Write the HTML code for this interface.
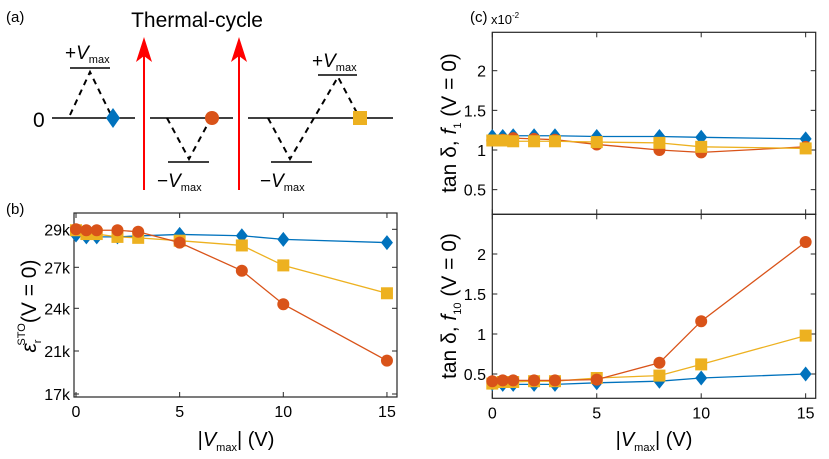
<!DOCTYPE html>
<html><head><meta charset="utf-8"><style>
body{margin:0;background:#fff;}
svg{font-family:"Liberation Sans",sans-serif;display:block}
</style></head><body>
<svg width="829" height="459" viewBox="0 0 829 459" xmlns="http://www.w3.org/2000/svg">
<g id="panelA">
<text x="6" y="22" font-size="15">(a)</text>
<text x="197" y="27" font-size="21" text-anchor="middle">Thermal-cycle</text>
<text x="33" y="127" font-size="21">0</text>
<g stroke="#000" stroke-width="1.5" fill="none">
<line x1="52" y1="118" x2="135" y2="118"/><line x1="150" y1="118" x2="233" y2="118"/><line x1="248" y1="118" x2="393" y2="118"/>
<line x1="70" y1="68" x2="110" y2="68"/><line x1="168" y1="162" x2="209" y2="162"/><line x1="271" y1="162" x2="312" y2="162"/><line x1="318" y1="75" x2="357" y2="75"/>
<g stroke-dasharray="6,5" stroke-width="2">
<polyline points="70,115 90,72 111,115"/><polyline points="167,118 189,159 211,118"/><polyline points="268,118 290,159 338,77 357,113"/>
</g></g>
<text x="65" y="59" font-size="19">+<tspan font-style="italic">V</tspan><tspan font-size="11" dy="4">max</tspan></text>
<text x="157" y="187" font-size="19">−<tspan font-style="italic">V</tspan><tspan font-size="11" dy="4">max</tspan></text>
<text x="260" y="187" font-size="19">−<tspan font-style="italic">V</tspan><tspan font-size="11" dy="4">max</tspan></text>
<text x="312" y="67" font-size="19">+<tspan font-style="italic">V</tspan><tspan font-size="11" dy="4">max</tspan></text>
<g>
<line x1="144" y1="190" x2="144" y2="50" stroke="#f00" stroke-width="2"/>
<path d="M144,37 L152,62 L144,56 L136,62 Z" fill="#f00"/></g>
<g>
<line x1="239" y1="190" x2="239" y2="50" stroke="#f00" stroke-width="2"/>
<path d="M239,37 L247,62 L239,56 L231,62 Z" fill="#f00"/></g>
<path d="M113,108 L120,118 L113,128 L106,118 Z" fill="#0072BD"/>
<circle cx="212" cy="118" r="7" fill="#D95319"/>
<rect x="353" y="111" width="14" height="14" fill="#EDB120"/>
</g>
<text x="6" y="214" font-size="15">(b)</text>
<text x="470" y="22" font-size="15">(c)</text>
<g id="charts"></g>
</svg>
<script>
const xs = [0, 0.5, 1, 2, 3, 5, 8, 10, 15];
const xTicks = [0, 5, 10, 15];
const bBlue = [28.7, 28.6, 28.6, 28.6, 28.65, 28.73, 28.66, 28.47, 28.3];
const bOrange = [29.0, 28.95, 28.95, 28.95, 28.87, 28.3, 26.75, 24.3, 20.1];
const bYellow = [28.95, 28.75, 28.75, 28.6, 28.55, 28.4, 28.15, 27.1, 25.1];
const bTicks = [29, 27, 24, 21, 17];
const bTickLabels = ["29k", "27k", "24k", "21k", "17k"];
const c1Blue = [1.17, 1.17, 1.18, 1.18, 1.18, 1.17, 1.17, 1.16, 1.14];
const c1Orange = [1.12, 1.13, 1.15, 1.14, 1.13, 1.07, 1.0, 0.97, 1.04];
const c1Yellow = [1.12, 1.12, 1.11, 1.11, 1.11, 1.1, 1.09, 1.04, 1.02];
const c10Blue = [0.38, 0.37, 0.37, 0.37, 0.37, 0.39, 0.41, 0.45, 0.5];
const c10Orange = [0.41, 0.42, 0.42, 0.42, 0.42, 0.43, 0.64, 1.16, 2.15];
const c10Yellow = [0.38, 0.4, 0.4, 0.41, 0.41, 0.45, 0.48, 0.62, 0.98];
const cTicks = [0.5, 1, 1.5, 2];
const cTickLabels = ["0.5", "1", "1.5", "2"];

const NS = "http://www.w3.org/2000/svg";
const root = document.getElementById("charts");
function mk(tag, attrs, parent) { const e = document.createElementNS(NS, tag); for (const k in attrs) e.setAttribute(k, attrs[k]); (parent || root).appendChild(e); return e; }
const COLORS = { blue: "#0072BD", orange: "#D95319", yellow: "#EDB120" };

const bTickPx = [229.3, 267.3, 308.3, 351, 394];
function yB(v) {
  for (let i = 0; i < bTicks.length - 1; i++) {
    const a = bTicks[i], b = bTicks[i + 1];
    if (v <= a && v >= b || i === bTicks.length - 2 || (i === 0 && v > a)) {
      return bTickPx[i] + (a - v) / (a - b) * (bTickPx[i + 1] - bTickPx[i]);
    }
  }
}
const xB = v => 76 + v * 20.73;
const xC = v => 492.3 + v * 20.89;
const yC1 = v => 150 - (v - 1) * 79.3;
const yC10 = v => 334 - (v - 1) * 80;

function marker(kind, x, y, g) {
  let e;
  if (kind === "blue") e = mk("path", { d: `M${x},${y - 7.5} L${x + 6},${y} L${x},${y + 7.5} L${x - 6},${y} Z`, fill: COLORS.blue }, g);
  else if (kind === "orange") e = mk("circle", { cx: x, cy: y, r: 6, fill: COLORS.orange }, g);
  else e = mk("rect", { x: x - 6, y: y - 6, width: 12, height: 12, fill: COLORS.yellow }, g);
  return e;
}
function series(kind, vals, fx, fy, name) {
  const g = mk("g", {});
  
  
  const pl = mk("polyline", { points: xs.map((x, i) => fx(x) + "," + fy(vals[i])).join(" "), fill: "none", stroke: COLORS[kind], "stroke-width": 1.3 }, g);
  
  
  xs.forEach((x, i) => {
    const m = marker(kind, fx(x), fy(vals[i]), g);
    
    
  });
}
function frame(x0, y0, x1, y1, name, xticks, xlabels, yticksPx, ylabels, tickLabelX) {
  const g = mk("g", {});
  
  
  const r = mk("rect", { x: x0, y: y0, width: x1 - x0, height: y1 - y0, fill: "none", stroke: "#262626", "stroke-width": 1.2 }, g);
  
  
  xticks.forEach((px, i) => {
    mk("line", { x1: px, y1: y1, x2: px, y2: y1 - 5, stroke: "#262626" }, g);
    mk("line", { x1: px, y1: y0, x2: px, y2: y0 + 5, stroke: "#262626" }, g);
    if (xlabels) {
      const t = mk("text", { x: px, y: y1 + 20, "font-size": 16, "text-anchor": "middle" }, g);
      t.textContent = xlabels[i];
      
      
    }
  });
  yticksPx.forEach((py, i) => {
    mk("line", { x1: x0, y1: py, x2: x0 + 5, y2: py, stroke: "#262626" }, g);
    mk("line", { x1: x1, y1: py, x2: x1 - 5, y2: py, stroke: "#262626" }, g);
    const t = mk("text", { x: tickLabelX, y: py + 6, "font-size": 16, "text-anchor": "end" }, g);
    t.textContent = ylabels[i];
    
    
  });
}
frame(74, 213, 397, 397, "panel-b-axes", xTicks.map(xB), xTicks.map(String), bTicks.map(yB), bTickLabels, 70);
series("blue", bBlue, xB, yB, "b-series-blue");
series("yellow", bYellow, xB, yB, "b-series-yellow");
series("orange", bOrange, xB, yB, "b-series-orange");
frame(492.3, 32.3, 815.7, 214.3, "panel-c-upper-axes", xTicks.map(xC), null, cTicks.map(yC1), cTickLabels, 486);
series("blue", c1Blue, xC, yC1, "c1-series-blue");
series("orange", c1Orange, xC, yC1, "c1-series-orange");
series("yellow", c1Yellow, xC, yC1, "c1-series-yellow");
frame(492.3, 214.3, 815.7, 398.3, "panel-c-lower-axes", xTicks.map(xC), xTicks.map(String), cTicks.map(yC10), cTickLabels, 486);
series("blue", c10Blue, xC, yC10, "c10-series-blue");
series("yellow", c10Yellow, xC, yC10, "c10-series-yellow");
series("orange", c10Orange, xC, yC10, "c10-series-orange");
</script>
<svg width="829" height="459" style="position:absolute;left:0;top:0" xmlns="http://www.w3.org/2000/svg">
<text x="491" y="24" font-size="13" font-family="Liberation Sans">x10<tspan font-size="8" dy="-6">-2</tspan></text>
<text x="236" y="446" font-size="20" text-anchor="middle" font-family="Liberation Sans">|<tspan font-style="italic">V</tspan><tspan font-size="11" dy="5">max</tspan><tspan dy="-5">| (V)</tspan></text>
<text x="654" y="446" font-size="20" text-anchor="middle" font-family="Liberation Sans">|<tspan font-style="italic">V</tspan><tspan font-size="11" dy="5">max</tspan><tspan dy="-5">| (V)</tspan></text>
<text transform="translate(36,306) rotate(-90)" font-size="21" text-anchor="middle" font-family="Liberation Sans"><tspan font-style="italic">ε</tspan><tspan font-size="11" dy="5">r</tspan><tspan font-size="11" dy="-16" dx="-6">STO</tspan><tspan dy="11">(V = 0)</tspan></text>
<text transform="translate(456,123) rotate(-90)" font-size="21" text-anchor="middle" font-family="Liberation Sans">tan δ, <tspan font-style="italic">f</tspan><tspan font-size="11" dy="5">1</tspan><tspan dy="-5"> (V = 0)</tspan></text>
<text transform="translate(456,306) rotate(-90)" font-size="21" text-anchor="middle" font-family="Liberation Sans">tan δ, <tspan font-style="italic">f</tspan><tspan font-size="11" dy="5">10</tspan><tspan dy="-5"> (V = 0)</tspan></text>
</svg>
</body></html>
